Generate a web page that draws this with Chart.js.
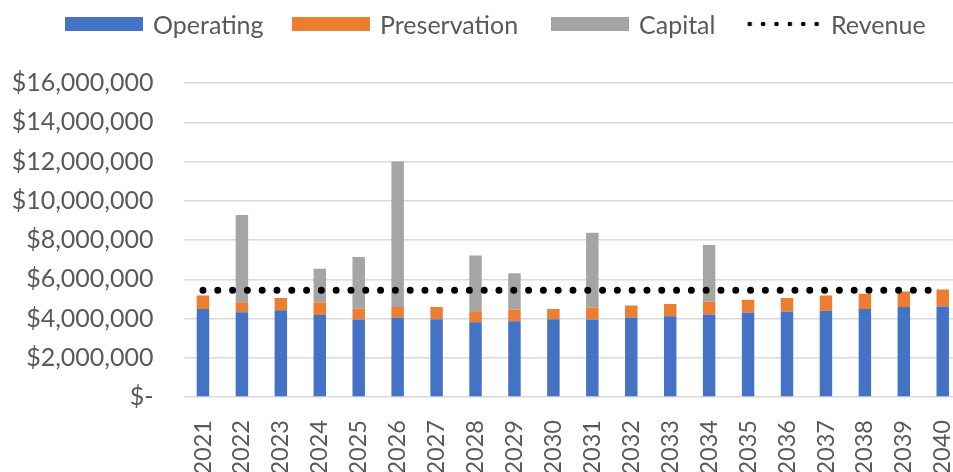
<!DOCTYPE html>
<html>
<head>
<meta charset="utf-8">
<title>Operating, Preservation and Capital Costs vs Revenue</title>
<script src="https://cdn.jsdelivr.net/npm/chart.js@4.4.1/dist/chart.umd.min.js"></script>
<style>
    html, body {
        margin: 0;
        padding: 0;
        background: #fff;
        overflow: hidden;
    }
    .wrap {
        position: relative;
        width: 953px;
        height: 472px;
        overflow: hidden;
        font-family: Lato, "Open Sans", sans-serif;
        color: #595959;
    }
    #costChart {
        position: absolute;
        left: 0;
        top: 0;
    }
    .legend {
        position: absolute;
        top: 0;
        left: 0;
        height: 48px;
        width: 953px;
    }
    .legend-item {
        position: absolute;
        top: 8px;
        display: flex;
        align-items: center;
        font-size: 25px;
        line-height: 32px;
    }
    .swatch {
        width: 78px;
        height: 14px;
        margin-right: 10px;
    }
    .swatch.dots {
        width: 82px;
        height: 8px;
        margin-right: 6px;
        background: radial-gradient(circle, #000 2px, transparent 2.6px) 0 0 / 13.4px 8px repeat-x;
    }
</style>
</head>
<body>
<div class="wrap">
    <canvas id="costChart" width="986" height="472"></canvas>
    <div class="legend" id="legend"></div>
</div>

<script>
// ----- data -----
const years = ['2021', '2022', '2023', '2024', '2025', '2026', '2027', '2028', '2029', '2030',
               '2031', '2032', '2033', '2034', '2035', '2036', '2037', '2038', '2039', '2040'];

const operating = [4490000, 4320000, 4420000, 4180000, 3950000, 4050000, 3960000, 3810000, 3860000, 3960000,
                   3950000, 4050000, 4120000, 4200000, 4290000, 4340000, 4390000, 4490000, 4580000, 4610000];

const preservation = [680000, 510000, 620000, 640000, 560000, 530000, 620000, 560000, 600000, 530000,
                      610000, 610000, 620000, 650000, 660000, 700000, 780000, 770000, 800000, 870000];

const capital = [0, 4440000, 0, 1710000, 2630000, 7420000, 0, 2840000, 1850000, 0,
                 3810000, 0, 0, 2890000, 0, 0, 0, 0, 0, 0];

const revenue = [5440000, 5440000, 5440000, 5440000, 5440000, 5440000, 5440000, 5440000, 5440000, 5440000,
                 5440000, 5440000, 5440000, 5440000, 5440000, 5440000, 5440000, 5440000, 5440000, 5440000];

const yTicks = [0, 2000000, 4000000, 6000000, 8000000, 10000000, 12000000, 14000000, 16000000];

const colors = {
    operating: '#4472C4',
    preservation: '#ED7D31',
    capital: '#A5A5A5',
    revenue: '#000000',
    text: '#595959',
    grid: '#D9D9D9'
};

// left edges of the legend entries
const legendLeft = [65, 292, 551, 743];

document.addEventListener('DOMContentLoaded', function() {
    const chart = initCostChart();
    buildLegend(chart);
});

function formatDollars(value) {
    if (value === 0) return '$-';
    return '$' + value.toLocaleString('en-US');
}

/**
 * Stacked cost bars with the flat revenue line on top
 */
function initCostChart() {
    const ctx = document.getElementById('costChart').getContext('2d');

    const barDefaults = {
        type: 'bar',
        stack: 'costs',
        categoryPercentage: 1,
        barPercentage: 0.32,
        borderWidth: 0
    };

    return new Chart(ctx, {
        data: {
            labels: years,
            datasets: [
                {
                    ...barDefaults,
                    label: 'Operating',
                    data: operating,
                    backgroundColor: colors.operating,
                    order: 2
                },
                {
                    ...barDefaults,
                    label: 'Preservation',
                    data: preservation,
                    backgroundColor: colors.preservation,
                    order: 2
                },
                {
                    ...barDefaults,
                    label: 'Capital',
                    data: capital,
                    backgroundColor: colors.capital,
                    order: 2
                },
                {
                    type: 'line',
                    label: 'Revenue',
                    data: revenue,
                    borderColor: colors.revenue,
                    backgroundColor: colors.revenue,
                    borderWidth: 7,
                    borderDash: [0, 14.8],
                    borderCapStyle: 'round',
                    pointRadius: 0,
                    pointHoverRadius: 0,
                    fill: false,
                    tension: 0,
                    order: 1
                }
            ]
        },
        options: {
            responsive: false,
            animation: false,
            layout: {
                padding: { top: 83, right: 2, bottom: 0, left: 0 }
            },
            plugins: {
                legend: { display: false },
                tooltip: { enabled: false }
            },
            scales: {
                x: {
                    stacked: true,
                    grid: { display: false },
                    border: { display: false },
                    ticks: {
                        color: colors.text,
                        font: { family: 'Lato', size: 23.5 },
                        minRotation: 90,
                        maxRotation: 90,
                        autoSkip: false,
                        padding: 15
                    },
                    afterFit: function(scale) {
                        scale.height = 75;
                    }
                },
                y: {
                    stacked: true,
                    min: 0,
                    max: 16000000,
                    afterBuildTicks: function(scale) {
                        scale.ticks = yTicks.map(v => ({ value: v }));
                    },
                    grid: {
                        color: colors.grid,
                        lineWidth: 1.5,
                        drawTicks: false
                    },
                    border: { display: false },
                    ticks: {
                        color: colors.text,
                        font: { family: 'Lato', size: 25 },
                        padding: 30,
                        callback: function(value) {
                            return formatDollars(value);
                        }
                    },
                    afterFit: function(scale) {
                        scale.width = 183.5;
                    }
                }
            }
        }
    });
}

/**
 * Legend row above the plot, built from the chart datasets
 */
function buildLegend(chart) {
    const legend = document.getElementById('legend');
    chart.data.datasets.forEach((ds, i) => {
        const item = document.createElement('div');
        item.className = 'legend-item';
        item.style.left = legendLeft[i] + 'px';

        const swatch = document.createElement('span');
        swatch.className = ds.type === 'line' ? 'swatch dots' : 'swatch';
        if (ds.type !== 'line') swatch.style.background = ds.backgroundColor;

        const label = document.createElement('span');
        label.textContent = ds.label;

        item.appendChild(swatch);
        item.appendChild(label);
        legend.appendChild(item);
    });
}
</script>
</body>
</html>
